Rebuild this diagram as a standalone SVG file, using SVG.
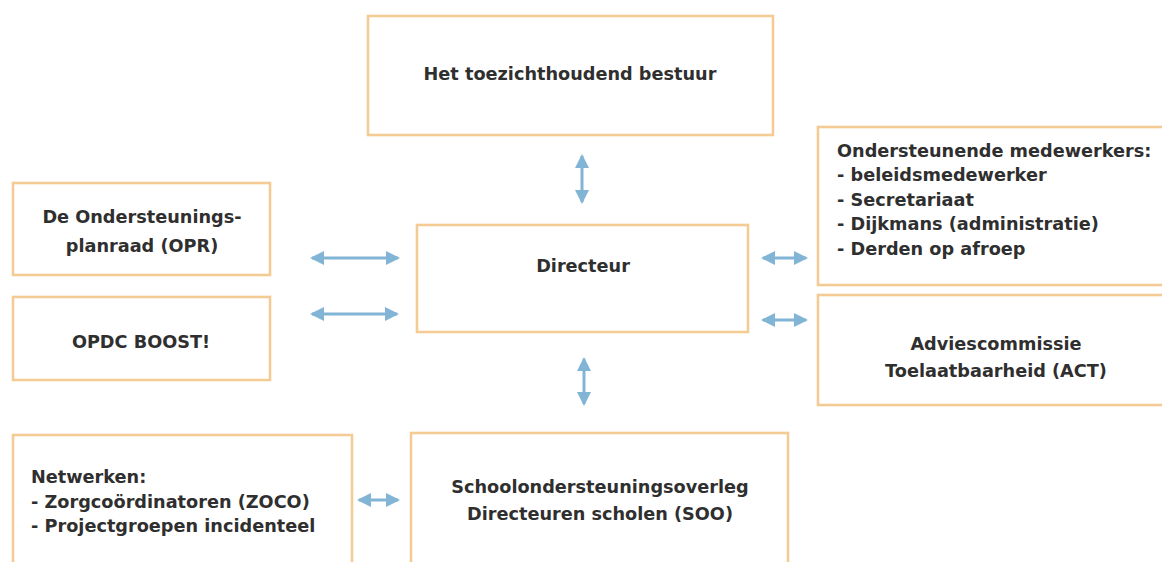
<svg xmlns="http://www.w3.org/2000/svg" width="1162" height="562" viewBox="0 0 1162 562">
<style>
.box{fill:#ffffff;stroke:#f4cb95;stroke-width:2.6}
.t{font-family:"DejaVu Sans","Liberation Sans",sans-serif;font-weight:bold;font-size:17.7px;fill:#2f2f2f}
.c{text-anchor:middle}
.arr{stroke:#82b4d6;stroke-width:3;fill:none;marker-start:url(#ah);marker-end:url(#ah)}
</style>
<defs>
<marker id="ah" viewBox="0 0 14 14" refX="12" refY="7" markerWidth="14" markerHeight="14" markerUnits="userSpaceOnUse" orient="auto-start-reverse">
<path d="M0,0 L14,7 L0,14 Z" fill="#82b4d6"/>
</marker>
</defs>
<rect width="1162" height="562" fill="#ffffff"/>
<g id="bestuur">
<rect class="box" x="368" y="16" width="405" height="119"/>
<text class="t c" x="570" y="80">Het toezichthoudend bestuur</text>
</g>
<g id="opr">
<rect class="box" x="13" y="183" width="257" height="92"/>
<text class="t c" x="142" y="223">De Ondersteunings-</text>
<text class="t c" x="142" y="252">planraad (OPR)</text>
</g>
<g id="opdc">
<rect class="box" x="13" y="297" width="257" height="83"/>
<text class="t c" x="141" y="348">OPDC BOOST!</text>
</g>
<g id="directeur">
<rect class="box" x="417" y="225" width="331" height="107"/>
<text class="t c" x="583" y="272">Directeur</text>
</g>
<g id="medewerkers">
<rect class="box" x="818" y="127" width="360" height="158"/>
<text class="t" x="837" y="157">Ondersteunende medewerkers:</text>
<text class="t" x="837" y="181">- beleidsmedewerker</text>
<text class="t" x="837" y="206">- Secretariaat</text>
<text class="t" x="837" y="230">- Dijkmans (administratie)</text>
<text class="t" x="837" y="255">- Derden op afroep</text>
</g>
<g id="act">
<rect class="box" x="818" y="295" width="360" height="110"/>
<text class="t c" x="996" y="350">Adviescommissie</text>
<text class="t c" x="996" y="377">Toelaatbaarheid (ACT)</text>
</g>
<g id="netwerken">
<rect class="box" x="13" y="435" width="339" height="140"/>
<text class="t" x="31" y="483">Netwerken:</text>
<text class="t" x="31" y="508">- Zorgcoördinatoren (ZOCO)</text>
<text class="t" x="31" y="532">- Projectgroepen incidenteel</text>
</g>
<g id="soo">
<rect class="box" x="411" y="433" width="377" height="140"/>
<text class="t c" x="600" y="493">Schoolondersteuningsoverleg</text>
<text class="t c" x="600" y="520">Directeuren scholen (SOO)</text>
</g>
<g id="connectors">
<line class="arr" x1="312" y1="258" x2="398" y2="258"/>
<line class="arr" x1="312" y1="314" x2="397" y2="314"/>
<line class="arr" x1="582" y1="156" x2="582" y2="202"/>
<line class="arr" x1="584" y1="359" x2="584" y2="404"/>
<line class="arr" x1="763" y1="258" x2="806" y2="258"/>
<line class="arr" x1="763" y1="320" x2="806" y2="320"/>
<line class="arr" x1="359" y1="500" x2="398" y2="500"/>
</g>
</svg>
